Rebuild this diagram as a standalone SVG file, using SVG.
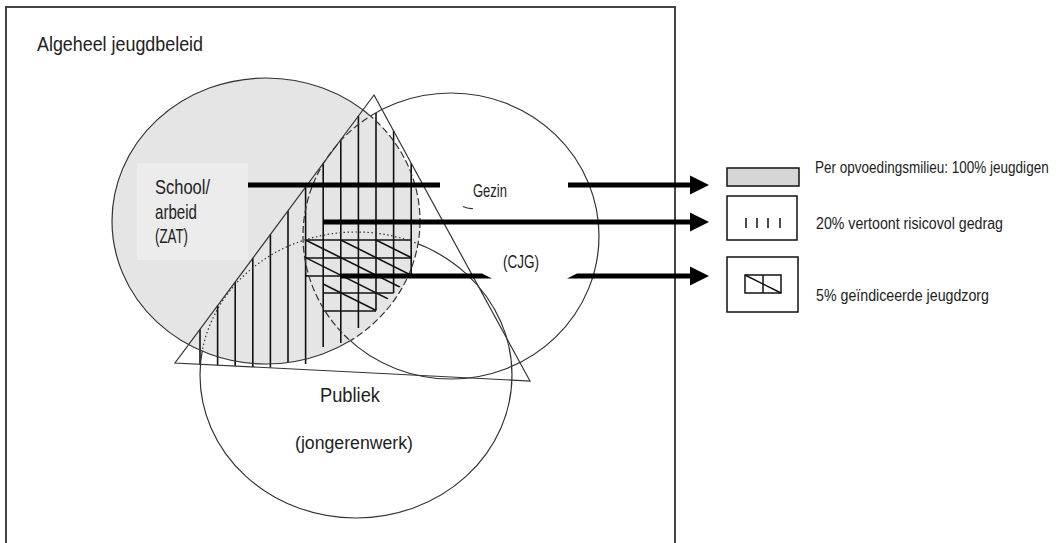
<svg xmlns="http://www.w3.org/2000/svg" width="1061" height="543" viewBox="0 0 1061 543">
<style>
.ln{fill:none;stroke:#333;stroke-width:1.2}
.h{stroke:#111;stroke-width:1.6}
.t{font-family:"Liberation Sans",Arial,sans-serif;fill:#222}
.ar{stroke:#000;stroke-width:5}
.lg{fill:#fff;stroke:#111;stroke-width:1.5}
</style>
<defs>
<clipPath id="inGray"><ellipse cx="266" cy="221" rx="154" ry="143"/></clipPath>
<clipPath id="outGray"><path clip-rule="evenodd" d="M0 0H1061V543H0Z M112 221A154 143 0 1 0 420 221A154 143 0 1 0 112 221Z"/></clipPath>
<clipPath id="inGezin"><ellipse cx="451" cy="236" rx="148" ry="143"/></clipPath>
<clipPath id="outGezin"><path clip-rule="evenodd" d="M0 0H1061V543H0Z M303 236A148 143 0 1 0 599 236A148 143 0 1 0 303 236Z"/></clipPath>
<clipPath id="gridClip"><polygon points="305.6,240 411.2,240 411.2,276 393.6,293 376,311 323.2,311 323.2,276 305.6,276"/></clipPath>
</defs>

<rect x="6" y="7" width="669" height="560" fill="#fff" stroke="#444" stroke-width="2"/>

<g id="school">
<ellipse cx="266" cy="221" rx="154" ry="143" fill="#e5e5e5"/>
<rect x="137" y="163" width="111" height="97" fill="#ececec"/>
</g>

<g id="hatching" class="h">
<line x1="200" y1="329.3" x2="200" y2="364.3"/>
<line x1="217.6" y1="305.6" x2="217.6" y2="365.2"/>
<line x1="235.2" y1="281.9" x2="235.2" y2="366.1"/>
<line x1="252.8" y1="258.2" x2="252.8" y2="366.9"/>
<line x1="270.4" y1="234.5" x2="270.4" y2="367.5"/>
<line x1="288" y1="210.8" x2="288" y2="362"/>
<line x1="305.6" y1="187.1" x2="305.6" y2="364"/>
<line x1="323.2" y1="163.4" x2="323.2" y2="347"/>
<line x1="340.8" y1="139.7" x2="340.8" y2="343"/>
<line x1="358.4" y1="116" x2="358.4" y2="328"/>
<line x1="376" y1="113" x2="376" y2="310"/>
<line x1="393.6" y1="130.9" x2="393.6" y2="293"/>
<line x1="411.2" y1="163.2" x2="411.2" y2="275"/>
</g>

<g id="grid" class="h">
<line x1="305.6" y1="240" x2="411.2" y2="240"/>
<line x1="305.6" y1="258" x2="411.2" y2="258"/>
<line x1="305.6" y1="276" x2="411.2" y2="276"/>
<line x1="323.2" y1="293" x2="393.6" y2="293"/>
<line x1="323.2" y1="311" x2="376" y2="311"/>
<g clip-path="url(#gridClip)">
<line x1="305.6" y1="240" x2="425" y2="299.7"/>
<line x1="305.6" y1="257.6" x2="425" y2="317.3"/>
<line x1="305.6" y1="275.2" x2="425" y2="334.9"/>
<line x1="340.8" y1="240" x2="425" y2="282.1"/>
<line x1="376" y1="240" x2="425" y2="264.5"/>
</g>
</g>

<g id="outlines">
<g clip-path="url(#outGezin)"><ellipse class="ln" cx="266" cy="221" rx="154" ry="143"/></g>
<g clip-path="url(#inGezin)"><ellipse class="ln" cx="266" cy="221" rx="154" ry="143" stroke-dasharray="7 3"/></g>
<g clip-path="url(#outGray)"><ellipse class="ln" cx="451" cy="236" rx="148" ry="143"/></g>
<g clip-path="url(#inGray)"><ellipse class="ln" cx="451" cy="236" rx="148" ry="143" stroke-dasharray="7 3"/></g>
<g clip-path="url(#outGray)"><ellipse class="ln" cx="356" cy="375" rx="156" ry="143"/></g>
<g clip-path="url(#inGray)"><ellipse class="ln" cx="356" cy="375" rx="156" ry="143" stroke-dasharray="1.5 2.5"/></g>
</g>

<g id="triangle">
<polygon class="ln" points="374,95 530,381 175,363"/>
</g>

<g id="connectors">
<line class="ar" x1="248" y1="185" x2="440" y2="185"/>
<line class="ar" x1="568" y1="185" x2="691" y2="185"/>
<polygon points="690,175.5 709,185 690,194.5"/>
<line class="ar" x1="323" y1="222" x2="691" y2="222"/>
<polygon points="690,212.5 709,222 690,231.5"/>
<polygon points="340,273.5 482,273.5 492,278.5 340,278.5"/>
<polygon points="577,273.5 691,273.5 691,278.5 567,278.5"/>
<polygon points="690,266.5 709,276 690,285.5"/>
<path d="M463 206.5Q468 209 473 208.5" fill="none" stroke="#333" stroke-width="1.2"/>
</g>

<g id="labels">
<text class="t" x="37" y="51" font-size="21" textLength="166" lengthAdjust="spacingAndGlyphs">Algeheel jeugdbeleid</text>
<text class="t" x="155" y="194" font-size="21" textLength="55" lengthAdjust="spacingAndGlyphs">School/</text>
<text class="t" x="155" y="219" font-size="21" textLength="42" lengthAdjust="spacingAndGlyphs">arbeid</text>
<text class="t" x="155" y="243" font-size="21" textLength="33" lengthAdjust="spacingAndGlyphs">(ZAT)</text>
<text class="t" x="473" y="197" font-size="19" textLength="34" lengthAdjust="spacingAndGlyphs">Gezin</text>
<text class="t" x="503" y="268" font-size="19" textLength="36" lengthAdjust="spacingAndGlyphs">(CJG)</text>
<text class="t" x="320" y="402" font-size="20" textLength="60" lengthAdjust="spacingAndGlyphs">Publiek</text>
<text class="t" x="295" y="449" font-size="18" textLength="118" lengthAdjust="spacingAndGlyphs">(jongerenwerk)</text>
</g>

<g id="legend">
<rect x="727" y="168" width="72" height="18" fill="#d6d6d6" stroke="#111" stroke-width="1.5"/>
<text class="t" transform="translate(815,173) scale(0.846,1)" x="0" y="0" font-size="16">Per opvoedingsmilieu: 100% jeugdigen</text>
<rect class="lg" x="727" y="196" width="70" height="44"/>
<g stroke="#111" stroke-width="1.5">
<line x1="746" y1="218" x2="746" y2="228"/>
<line x1="757" y1="218" x2="757" y2="228"/>
<line x1="768" y1="218" x2="768" y2="228"/>
<line x1="780" y1="218" x2="780" y2="228"/>
</g>
<text class="t" x="816" y="229" font-size="16" textLength="187" lengthAdjust="spacingAndGlyphs">20% vertoont risicovol gedrag</text>
<rect class="lg" x="727" y="257" width="71" height="55"/>
<g fill="none" stroke="#111" stroke-width="1.5">
<rect x="745" y="275" width="36" height="18"/>
<line x1="763" y1="275" x2="763" y2="293"/>
<line x1="745" y1="275" x2="781" y2="293"/>
</g>
<text class="t" x="816" y="301" font-size="16" textLength="173" lengthAdjust="spacingAndGlyphs">5% geïndiceerde jeugdzorg</text>
</g>
</svg>
